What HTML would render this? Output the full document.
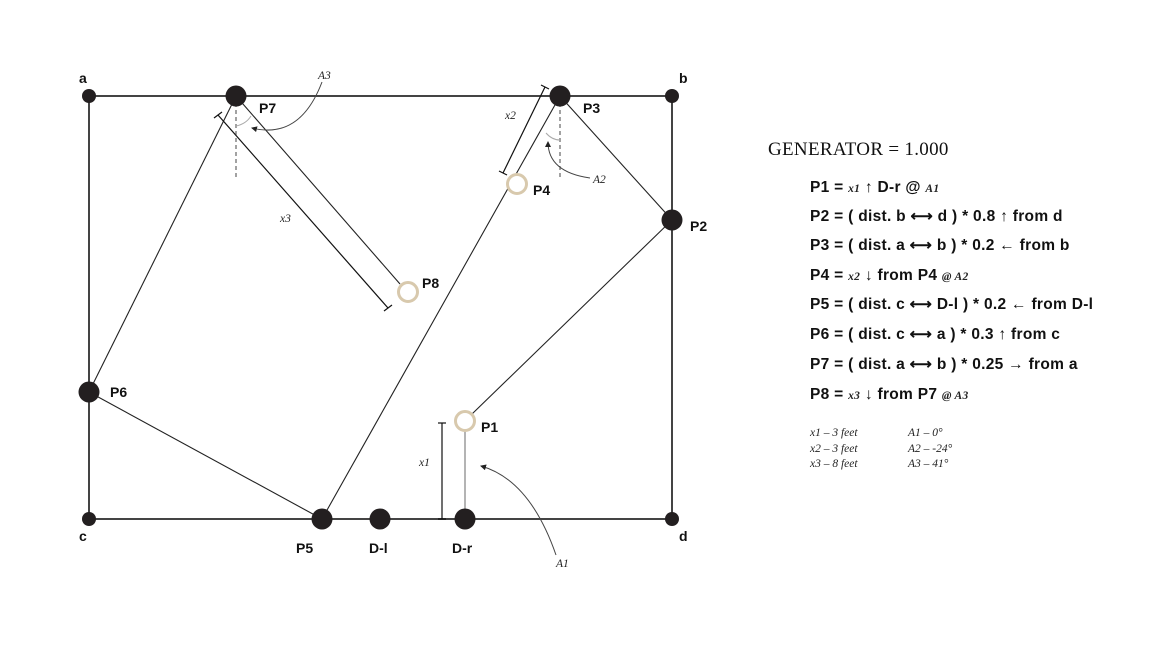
<!DOCTYPE html>
<html><head><meta charset="utf-8"><style>
html,body{margin:0;padding:0;background:#fff}
svg{display:block}
.lbl{font-family:"Liberation Sans",sans-serif;font-weight:bold;font-size:14px;fill:#111}
.it{font-family:"Liberation Serif",serif;font-style:italic;font-size:11.5px;fill:#222}
.eq{font-family:"Liberation Sans",sans-serif;font-weight:bold;font-size:15.5px;letter-spacing:0.3px;fill:#111}
</style></head><body>
<svg width="1152" height="649" viewBox="0 0 1152 649">
<defs><marker id="ah" markerWidth="6" markerHeight="6" refX="5" refY="3" orient="auto"><path d="M0,0 L6,3 L0,6 z" fill="#222"/></marker></defs>
<g stroke="#444" stroke-width="2" fill="none">
<rect x="89" y="96" width="583" height="423"/>
</g>
<g stroke="#222" stroke-width="1.1" fill="none">
<line x1="236" y1="96" x2="89" y2="392"/>
<line x1="236" y1="96" x2="400" y2="284"/>
<line x1="560" y1="96" x2="322" y2="519"/>
<line x1="560" y1="96" x2="672" y2="220"/>
<line x1="672" y1="220" x2="472" y2="414"/>
<line x1="465" y1="431" x2="465" y2="519" stroke="#777"/>
<line x1="89" y1="392" x2="322" y2="519"/>
</g>
<g stroke="#111" stroke-width="1.2">
<line x1="218" y1="115" x2="388" y2="308"/><line x1="214" y1="118" x2="222" y2="112"/><line x1="384" y1="311" x2="392" y2="305"/>
<line x1="545" y1="87" x2="503" y2="173"/><line x1="541" y1="85" x2="549" y2="89"/><line x1="499" y1="171" x2="507" y2="175"/>
<line x1="442" y1="423" x2="442" y2="519"/><line x1="438" y1="423" x2="446" y2="423"/><line x1="438" y1="519" x2="446" y2="519"/>
</g>
<g stroke="#444" stroke-width="1" fill="none">
<line x1="236" y1="96" x2="236" y2="180" stroke-dasharray="4,3"/>
<line x1="560" y1="96" x2="560" y2="180" stroke-dasharray="4,3"/>
<path d="M236,126 Q246,124 251,116" stroke="#aaa"/>
<path d="M560,140 Q552,140 546,133" stroke="#aaa"/>
<path d="M322,82 Q300,140 252,128" marker-end="url(#ah)"/>
<path d="M590,178 Q548,172 548,142" marker-end="url(#ah)"/>
<path d="M556,555 Q530,480 481,466" marker-end="url(#ah)"/>
</g>
<g>
<text class="it" x="280" y="222">x3</text>
<text class="it" x="505" y="119">x2</text>
<text class="it" x="419" y="466">x1</text>
<text class="it" x="318" y="79">A3</text>
<text class="it" x="593" y="183">A2</text>
<text class="it" x="556" y="567">A1</text>
</g>
<g fill="#231f20">
<circle cx="89" cy="96" r="7"/><circle cx="672" cy="96" r="7"/><circle cx="89" cy="519" r="7"/><circle cx="672" cy="519" r="7"/>
<circle cx="236" cy="96" r="10.5"/><circle cx="560" cy="96" r="10.5"/><circle cx="672" cy="220" r="10.5"/>
<circle cx="89" cy="392" r="10.5"/><circle cx="322" cy="519" r="10.5"/><circle cx="380" cy="519" r="10.5"/><circle cx="465" cy="519" r="10.5"/>
</g>
<g fill="#fff" stroke="#d8c9ad" stroke-width="3">
<circle cx="517" cy="184" r="9.5"/><circle cx="408" cy="292" r="9.5"/><circle cx="465" cy="421" r="9.5"/>
</g>
<g>
<text class="lbl" x="79" y="83">a</text><text class="lbl" x="679" y="83">b</text>
<text class="lbl" x="79" y="541">c</text><text class="lbl" x="679" y="541">d</text>
<text class="lbl" x="259" y="113">P7</text><text class="lbl" x="583" y="113">P3</text>
<text class="lbl" x="690" y="231">P2</text><text class="lbl" x="533" y="195">P4</text>
<text class="lbl" x="422" y="288">P8</text><text class="lbl" x="481" y="432">P1</text>
<text class="lbl" x="110" y="397">P6</text><text class="lbl" x="296" y="553">P5</text>
<text class="lbl" x="369" y="553">D-l</text><text class="lbl" x="452" y="553">D-r</text>
</g>
<g>
<text x="768" y="155" style="font-family:'Liberation Serif',serif;font-size:19px;letter-spacing:0.3px;fill:#111">GENERATOR = 1.000</text>
<text class="eq" x="810" y="192">P1 = <tspan class="it">x1</tspan> ↑ D-r @ <tspan class="it">A1</tspan></text>
<text class="eq" x="810" y="221">P2 = ( dist. b ⟷ d ) * 0.8 ↑ from d</text>
<text class="eq" x="810" y="250">P3 = ( dist. a ⟷ b ) * 0.2 ← from b</text>
<text class="eq" x="810" y="280">P4 = <tspan class="it">x2</tspan>  ↓ from P4 <tspan class="it">@ A2</tspan></text>
<text class="eq" x="810" y="309">P5 = ( dist. c ⟷ D-l ) * 0.2 ← from D-l</text>
<text class="eq" x="810" y="339">P6 = ( dist. c ⟷ a ) * 0.3 ↑ from c</text>
<text class="eq" x="810" y="369">P7 = ( dist. a ⟷ b ) * 0.25 → from a</text>
<text class="eq" x="810" y="399">P8 = <tspan class="it">x3</tspan>  ↓ from P7 <tspan class="it">@ A3</tspan></text>
<text class="it" x="810" y="436">x1  –  3 feet</text><text class="it" x="908" y="436">A1  – 0°</text>
<text class="it" x="810" y="452">x2  –  3 feet</text><text class="it" x="908" y="452">A2  –  -24°</text>
<text class="it" x="810" y="467">x3  –  8 feet</text><text class="it" x="908" y="467">A3  –  41°</text>
</g>
</svg>
</body></html>
